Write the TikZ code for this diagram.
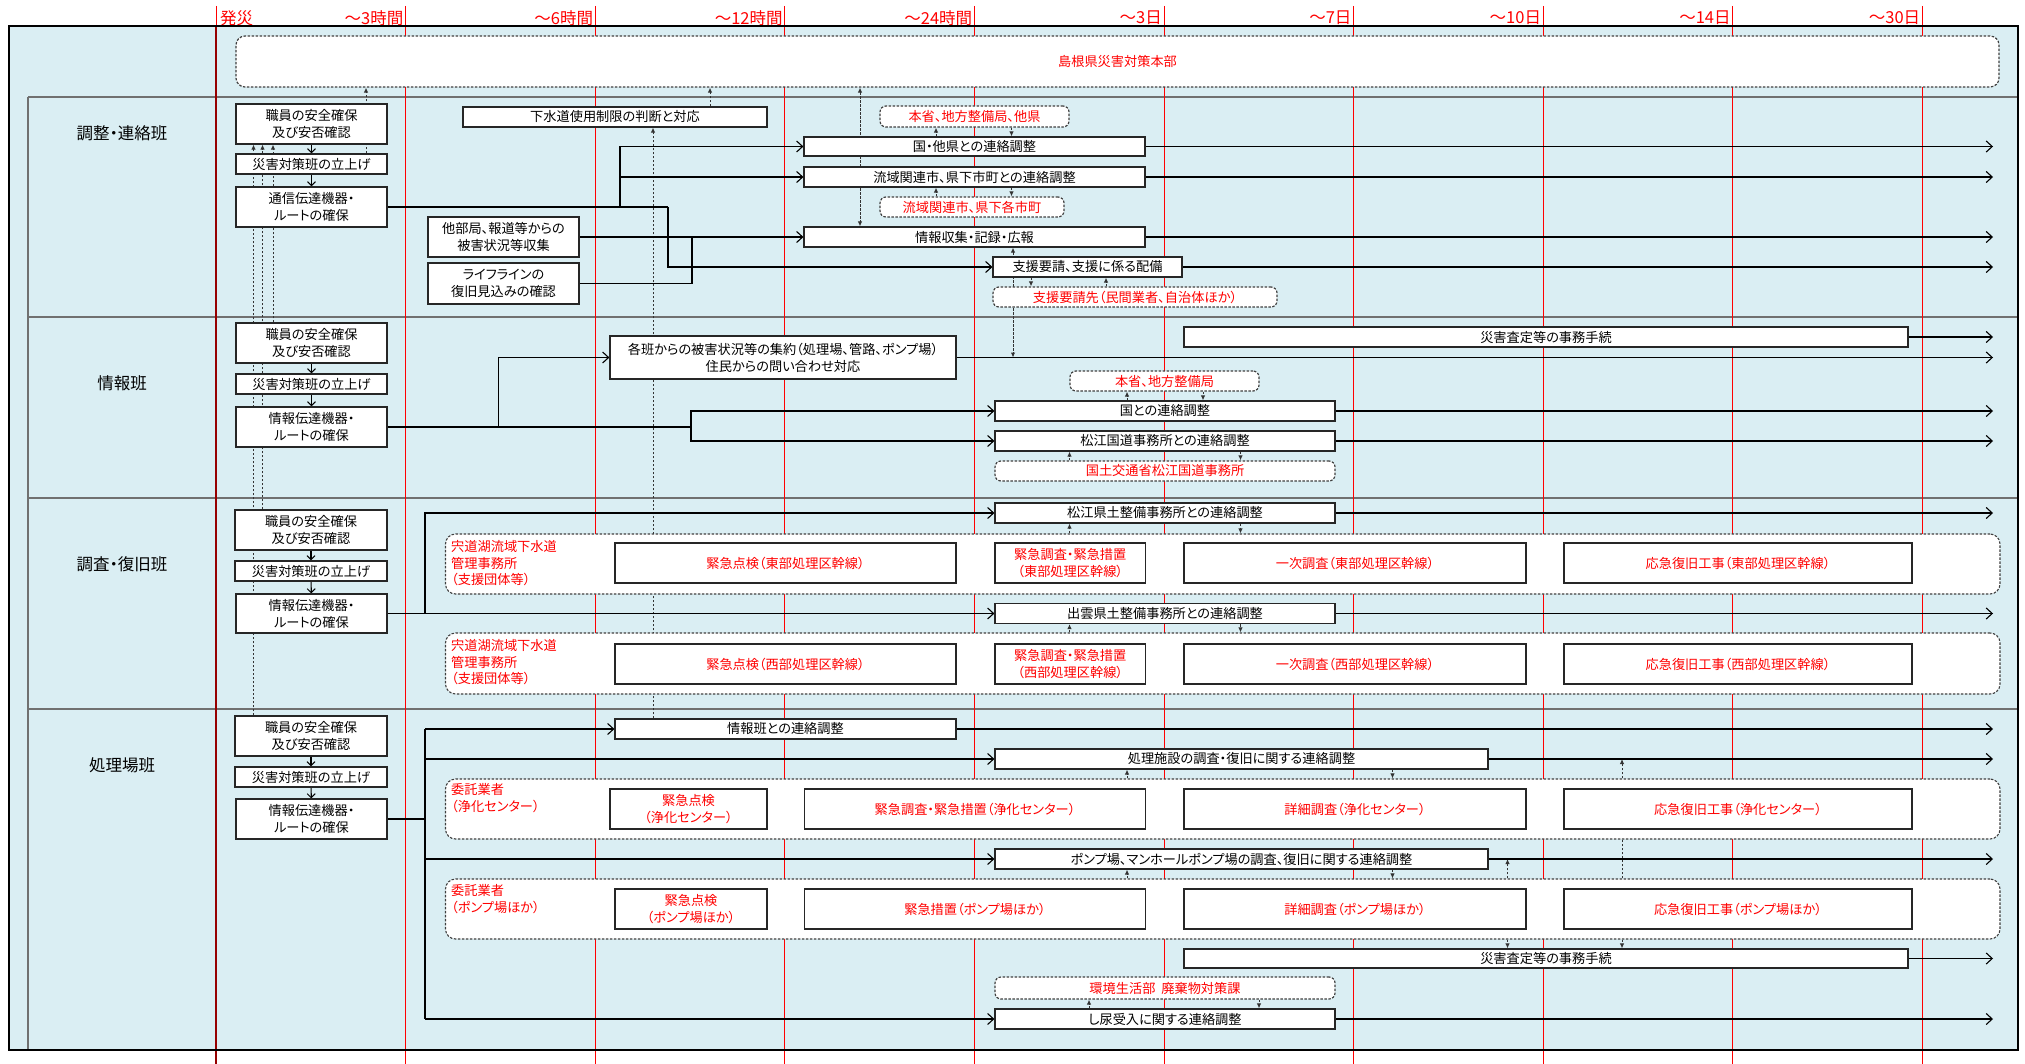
\documentclass[tikz,border=0pt]{standalone}
\usepackage{fontspec}
\setmainfont[RawFeature=+palt]{Noto Sans CJK JP}
\usetikzlibrary{arrows.meta}
\definecolor{paleblue}{RGB}{218,238,243}
\definecolor{lanegray}{RGB}{112,112,112}
\definecolor{jred}{RGB}{255,0,0}
\definecolor{darkjred}{RGB}{150,0,0}
\pgfdeclarelayer{bg}
\pgfdeclarelayer{links}
\pgfsetlayers{bg,links,main}
\tikzset{
  box/.style={draw=black!85,fill=white,line width=1.2pt,inner sep=0pt,align=center,font=\fontsize{13.2}{17}\selectfont},
  redbox/.style={box,text=jred},
  notebox/.style={box,draw=black!75,dash pattern=on 2.5pt off 1.5pt,rounded corners=6pt,text=jred},
  grp/.style={draw=black!75,fill=white,line width=1.1pt,dash pattern=on 2.5pt off 1.5pt,rounded corners=10pt,inner sep=0pt},
  grplabel/.style={anchor=north west,align=left,inner sep=0pt,text=jred,font=\fontsize{13.2}{16.7}\selectfont},
  lanelabel/.style={font=\fontsize{16.5}{18}\selectfont},
  hdr/.style={text=jred,inner sep=0pt,font=\fontsize{16.5}{18}\selectfont},
  tline/.style={jred,line width=0.9pt},
  flow/.style={line width=1.1pt,-{Straight Barb[length=6pt,width=11pt,line width=1.1pt]}},
  vflow/.style={line width=1.1pt,-{Straight Barb[length=4pt,width=8pt,line width=1pt]}},
  trunk/.style={line width=2.2pt},
  link/.style={line width=1.1pt},
  ref/.style={draw=black!80,line width=1pt,dash pattern=on 2.5pt off 1.5pt},
  reftip/.style={ref,-{Latex[length=5pt,width=4.5pt]}},
  refboth/.style={ref,{Latex[length=5pt,width=4.5pt]}-{Latex[length=5pt,width=4.5pt]}}
}
% style, name, x1, y1, x2, y2, text
\newcommand{\mkbox}[7]{\node[#1,minimum width={#5pt-#3pt},minimum height={#6pt-#4pt}] (#2) at ({(#3+#5)/2},{(#4+#6)/2}) {#7};}
\begin{document}
\begin{tikzpicture}[x=1pt,y=-1pt]
\useasboundingbox (0,0) rectangle (2025,1064);
\coordinate (rt) at (1993,0);

\begin{pgfonlayer}{bg}
\fill[white] (0,0) rectangle (2025,1064);
\fill[paleblue] (9,26) rectangle (2018,1050);
\foreach \y in {97,317,498,709} \draw[lanegray,line width=2pt] (28,\y) -- (2018,\y);
\draw[lanegray,line width=2pt] (28,97) -- (28,1050);
\draw[tline] (216,6) -- (216,26);
\draw[darkjred,line width=1.4pt] (216,26) -- (216,1064);
\node[hdr,anchor=west] (h0) at (220,18) {発災};
\foreach \i/\lab in {1/～3時間,2/～6時間,3/～12時間,4/～24時間,5/～3日,6/～7日,7/～10日,8/～14日,9/～30日}{
  \draw[tline] ({216+189.6*\i},6) -- ({216+189.6*\i},1064);
  \node[hdr,anchor=east] (h\i) at ({214+189.6*\i},18) {\lab};
}
\draw[black,line width=2pt] (9,26) rectangle (2018,1050);
\end{pgfonlayer}

\node[lanelabel] (l1) at (122,133) {調整・連絡班};
\node[lanelabel] (l2) at (122,383) {情報班};
\node[lanelabel] (l3) at (122,564) {調査・復旧班};
\node[lanelabel] (l4) at (122,765) {処理場班};

\mkbox{notebox,rounded corners=9pt}{hq}{236}{36}{1999}{87}{島根県災害対策本部}

% 調整・連絡班
\mkbox{box}{a1}{236}{104}{387}{144}{職員の安全確保\\及び安否確認}
\mkbox{box}{a2}{236}{154}{387}{174}{災害対策班の立上げ}
\mkbox{box}{a3}{236}{187}{387}{227}{通信伝達機器・\\ルートの確保}
\mkbox{box}{a4}{463}{107}{767}{127}{下水道使用制限の判断と対応}
\mkbox{box}{a5}{428}{217}{579}{257}{他部局、報道等からの\\被害状況等収集}
\mkbox{box}{a6}{428}{263}{579}{304}{ライフラインの\\復旧見込みの確認}
\mkbox{notebox}{r1}{880}{106}{1069}{127}{本省、地方整備局、他県}
\mkbox{box}{a7}{804}{137}{1145}{156}{国・他県との連絡調整}
\mkbox{box}{a8}{804}{167}{1145}{187}{流域関連市、県下市町との連絡調整}
\mkbox{notebox}{r2}{880}{197}{1064}{217}{流域関連市、県下各市町}
\mkbox{box}{a9}{804}{227}{1145}{247}{情報収集・記録・広報}
\mkbox{box}{a10}{993}{257}{1182}{277}{支援要請、支援に係る配備}
\mkbox{notebox}{r3}{993}{287}{1277}{307}{支援要請先（民間業者、自治体ほか）}

% 情報班
\mkbox{box}{b1}{236}{323}{387}{363}{職員の安全確保\\及び安否確認}
\mkbox{box}{b2}{236}{374}{387}{394}{災害対策班の立上げ}
\mkbox{box}{b3}{236}{407}{387}{447}{情報伝達機器・\\ルートの確保}
\mkbox{box}{b4}{610}{336}{956}{379}{各班からの被害状況等の集約（処理場、管路、ポンプ場）\\住民からの問い合わせ対応}
\mkbox{box}{b5}{1184}{327}{1908}{347}{災害査定等の事務手続}
\mkbox{notebox}{r4}{1070}{371}{1259}{391}{本省、地方整備局}
\mkbox{box}{b6}{995}{401}{1335}{421}{国との連絡調整}
\mkbox{box}{b7}{995}{431}{1335}{451}{松江国道事務所との連絡調整}
\mkbox{notebox}{r5}{995}{461}{1335}{481}{国土交通省松江国道事務所}

% 調査・復旧班
\mkbox{box}{c1}{235}{510}{387}{550}{職員の安全確保\\及び安否確認}
\mkbox{box}{c2}{235}{561}{387}{581}{災害対策班の立上げ}
\mkbox{box}{c3}{236}{594}{387}{633}{情報伝達機器・\\ルートの確保}
\mkbox{box}{c4}{995}{503}{1335}{523}{松江県土整備事務所との連絡調整}
\mkbox{grp}{g1}{445.5}{534}{2000}{594}{}
\node[grplabel] (g1t) at (451,540) {宍道湖流域下水道\\管理事務所\\（支援団体等）};
\mkbox{redbox}{c5}{615}{543}{956}{583}{緊急点検（東部処理区幹線）}
\mkbox{redbox}{c6}{995}{543}{1145.5}{583}{緊急調査・緊急措置\\（東部処理区幹線）}
\mkbox{redbox}{c7}{1184}{543}{1526}{583}{一次調査（東部処理区幹線）}
\mkbox{redbox}{c8}{1564}{543}{1912}{583}{応急復旧工事（東部処理区幹線）}
\mkbox{box}{c9}{995}{603.5}{1335}{623.5}{出雲県土整備事務所との連絡調整}
\mkbox{grp}{g2}{445.5}{633}{2000}{694}{}
\node[grplabel] (g2t) at (451,639) {宍道湖流域下水道\\管理事務所\\（支援団体等）};
\mkbox{redbox}{c10}{615}{644}{956}{684}{緊急点検（西部処理区幹線）}
\mkbox{redbox}{c11}{995}{644}{1145.5}{684}{緊急調査・緊急措置\\（西部処理区幹線）}
\mkbox{redbox}{c12}{1184}{644}{1526}{684}{一次調査（西部処理区幹線）}
\mkbox{redbox}{c13}{1564}{644}{1912}{684}{応急復旧工事（西部処理区幹線）}

% 処理場班
\mkbox{box}{d1}{235}{716}{387}{756}{職員の安全確保\\及び安否確認}
\mkbox{box}{d2}{235}{767}{387}{787}{災害対策班の立上げ}
\mkbox{box}{d3}{236}{799}{387}{839}{情報伝達機器・\\ルートの確保}
\mkbox{box}{d4}{615}{719}{956}{739}{情報班との連絡調整}
\mkbox{box}{d5}{995}{749}{1488}{769}{処理施設の調査・復旧に関する連絡調整}
\mkbox{grp}{g3}{445.5}{779}{2000}{839}{}
\node[grplabel] (g3t) at (451,783) {委託業者\\（浄化センター）};
\mkbox{redbox}{d6}{610}{789}{767}{829}{緊急点検\\（浄化センター）}
\mkbox{redbox}{d7}{804.5}{789}{1145.5}{829}{緊急調査・緊急措置（浄化センター）}
\mkbox{redbox}{d8}{1184}{789}{1526}{829}{詳細調査（浄化センター）}
\mkbox{redbox}{d9}{1564}{789}{1912}{829}{応急復旧工事（浄化センター）}
\mkbox{box}{d10}{995}{849}{1488}{869}{ポンプ場、マンホールポンプ場の調査、復旧に関する連絡調整}
\mkbox{grp}{g4}{445.5}{879}{2000}{939}{}
\node[grplabel] (g4t) at (451,884) {委託業者\\（ポンプ場ほか）};
\mkbox{redbox}{d11}{615}{889}{767}{929}{緊急点検\\（ポンプ場ほか）}
\mkbox{redbox}{d12}{804.5}{889}{1145.5}{929}{緊急措置（ポンプ場ほか）}
\mkbox{redbox}{d13}{1184}{889}{1526}{929}{詳細調査（ポンプ場ほか）}
\mkbox{redbox}{d14}{1564}{889}{1912}{929}{応急復旧工事（ポンプ場ほか）}
\mkbox{box}{d15}{1184}{949}{1908}{968}{災害査定等の事務手続}
\mkbox{notebox}{r6}{995}{977}{1335}{999}{環境生活部\ \ 廃棄物対策課}
\mkbox{box}{d16}{995}{1009}{1335}{1029}{し尿受入に関する連絡調整}

\begin{pgfonlayer}{links}
\foreach \p/\q in {a1/a2,a2/a3,b1/b2,b2/b3,c1/c2,c2/c3,d1/d2,d2/d3} \draw[vflow] (\p) -- (\q);
\foreach \x/\n in {273/b1,262.5/c1,253.5/d1} \draw[reftip] (\n.north -| \x,0) -- (a1.south -| \x,0);
\draw[reftip] (a2.north -| 366,0) -- (hq.south -| 366,0);
\draw[reftip] (a4.north -| 710,0) -- (hq.south -| 710,0);
\draw[reftip] (d4.north -| 653,0) -- (a4.south -| 653,0);
\draw[refboth] (hq.south -| 860,0) -- (a9.north -| 860,0);
\draw[reftip] (a7.north -| 936,0) -- (r1.south -| 936,0);
\draw[reftip] (r1.south -| 1011.5,0) -- (a7.north -| 1011.5,0);
\draw[reftip] (r2.north -| 936,0) -- (a8.south -| 936,0);
\draw[reftip] (a8.south -| 1011.5,0) -- (r2.north -| 1011.5,0);
\draw[refboth] (a9.south -| 1013,0) -- (b4.east -| 1013,0);
\draw[reftip] (a10.south -| 1031,0) -- (r3.north -| 1031,0);
\draw[reftip] (r3.north -| 1106,0) -- (a10.south -| 1106,0);

\draw[trunk] (a3.east) -- (a3.east -| 668,0);
\draw[flow] (a3.east -| 620,0) |- (a7.west);
\draw[flow] (a3.east -| 620,0) |- (a8.west);
\draw[flow] (a3.east -| 668,0) |- (a10.west);
\draw[link] (a5.east) -- (a5.east -| 692,0);
\draw[link] (a6.east) -| (a5.east -| 692,0);
\draw[trunk,-{Straight Barb[length=6pt,width=11pt,line width=1.1pt]}] (a5.east -| 692,0) -- (a9.west);

\draw[link] (b3.east) -- (b3.east -| 691,0);
\draw[flow] (b3.east -| 498.5,0) |- (b4.west);
\draw[flow] (b3.east -| 691,0) |- (b6.west);
\draw[flow] (b3.east -| 691,0) |- (b7.west);
\draw[reftip] (b6.north -| 1127,0) -- (r4.south -| 1127,0);
\draw[reftip] (r4.south -| 1203,0) -- (b6.north -| 1203,0);
\draw[reftip] (r5.north -| 1069.5,0) -- (b7.south -| 1069.5,0);
\draw[reftip] (b7.south -| 1240.5,0) -- (r5.north -| 1240.5,0);

\draw[flow] (c3.east) -- (c9.west);
\draw[flow] (c3.east -| 425,0) |- (c4.west);
\draw[reftip] (g1.north -| 1069.5,0) -- (c4.south -| 1069.5,0);
\draw[reftip] (c4.south -| 1240.5,0) -- (g1.north -| 1240.5,0);
\draw[reftip] (g2.north -| 1069.5,0) -- (c9.south -| 1069.5,0);
\draw[reftip] (c9.south -| 1240.5,0) -- (g2.north -| 1240.5,0);
\foreach \p/\q in {c5/c6,c6/c7,c7/c8,c10/c11,c11/c12,c12/c13,d6/d7,d7/d8,d8/d9,d11/d12,d12/d13,d13/d14} \draw[flow] (\p) -- (\q);

\draw[trunk] (d3.east) -- (d3.east -| 425,0);
\draw[link] (d4.west -| 425,0) -- (d16.west -| 425,0);
\foreach \n in {d4,d5,d10,d16} \draw[flow] (\n.west -| 425,0) -- (\n.west);
\draw[reftip] (g3.north -| 1127,0) -- (d5.south -| 1127,0);
\draw[reftip] (d5.south -| 1392.5,0) -- (g3.north -| 1392.5,0);
\draw[reftip] (g4.north -| 1622,0) -- (d5.east -| 1622,0);
\draw[reftip] (g4.north -| 1127,0) -- (d10.south -| 1127,0);
\draw[reftip] (d10.south -| 1392.5,0) -- (g4.north -| 1392.5,0);
\draw[reftip] (g4.north -| 1507.5,0) -- (d10.east -| 1507.5,0);
\draw[reftip] (g4.south -| 1507.5,0) -- (d15.north -| 1507.5,0);
\draw[reftip] (g4.south -| 1622,0) -- (d15.north -| 1622,0);
\draw[reftip] (d16.north -| 1089,0) -- (r6.south -| 1089,0);
\draw[reftip] (r6.south -| 1259,0) -- (d16.north -| 1259,0);

\foreach \n in {a7,a8,a9,a10,b4,b5,b6,b7,c4,c9,d4,d5,d10,d15,d16} \draw[flow] (\n.east) -- (\n.east -| rt);
\end{pgfonlayer}
\end{tikzpicture}
\end{document}
